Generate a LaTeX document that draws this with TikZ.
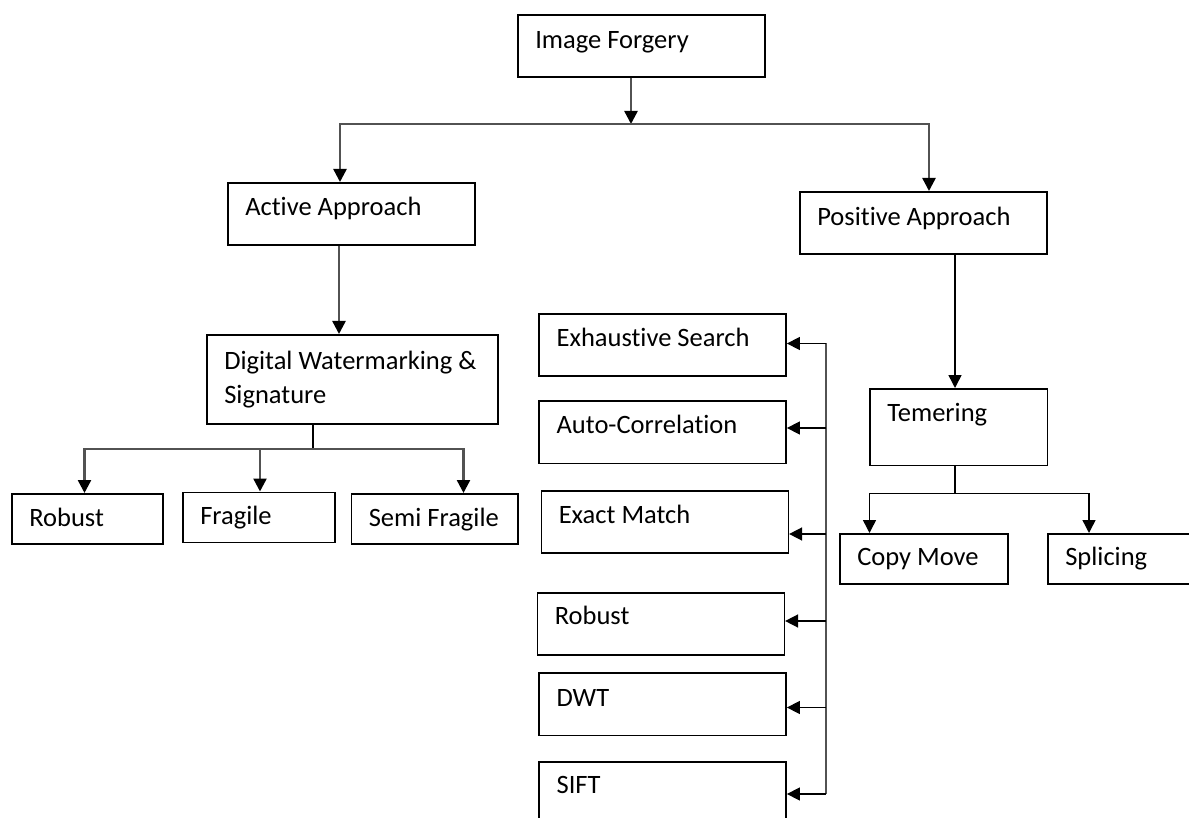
\documentclass[tikz,border=0pt]{standalone}
\usepackage{fontspec}
\setmainfont{Carlito}[Ligatures=NoCommon]
\usetikzlibrary{arrows.meta}
\begin{document}
\begin{tikzpicture}[x=1pt,y=-1pt,
  box/.style={draw=black, line width=1.6pt, anchor=north west, inner xsep=17.5pt, inner ysep=0pt,
    align=flush left, font=\fontsize{26.5}{34}\selectfont},
  conn/.style={draw=black!68, line width=2.4pt},
  thin/.style={draw=black, line width=1.5pt},
  ar/.style={-{Triangle[length=13pt,width=13pt,color=black]}},
  ar2/.style={{Triangle[length=13pt,width=13pt,color=black]}-{Triangle[length=13pt,width=13pt,color=black]}}]
\clip (0,0) rectangle (1189,818);
% boxes
\node[box, text width=212pt, text height=33.5pt, text depth=28.5pt] (forg) at (517,14) {Image Forgery};
\node[box, text width=212pt, text height=33pt, text depth=29pt] (act) at (227,182) {Active Approach};
\node[box, text width=212pt, text height=33.3pt, text depth=28.7pt] (pos) at (799,191) {Positive Approach};
\node[box, text width=256pt, text height=35pt, text depth=54pt] (dw) at (206,334) {\mbox{Digital Watermarking \&}\\Signature};
\node[box, text width=116pt, text height=33pt, text depth=17pt] (rob1) at (11,493) {Robust};
\node[box, text width=117pt, text height=32.5pt, text depth=17.5pt] (frag) at (182,491.5) {Fragile};
\node[box, text width=131.5pt, text height=33pt, text depth=17pt] (semi) at (350.5,493) {\mbox{Semi Fragile}};
\node[box, text width=142.5pt, text height=33pt, text depth=43.5pt] (tem) at (869,388) {Temering};
\node[box, text width=133pt, text height=32pt, text depth=18pt] (copy) at (839,533) {Copy Move};
\node[box, text width=145pt, text height=32pt, text depth=18pt] (spl) at (1047,533) {Splicing};
\node[box, text width=212pt, text height=33pt, text depth=29pt] (exh) at (538.3,313) {Exhaustive Search};
\node[box, text width=212pt, text height=33pt, text depth=29.5pt] (auto) at (538.3,400) {Auto-Correlation};
\node[box, text width=212pt, text height=32.7pt, text depth=29.3pt] (exact) at (540.5,490) {Exact Match};
\node[box, text width=212pt, text height=32pt, text depth=30pt] (rob2) at (536.5,592) {Robust};
\node[box, text width=212pt, text height=33pt, text depth=29.5pt] (dwt) at (538.3,672.3) {DWT};
\node[box, text width=212pt, text height=31.5pt, text depth=30.5pt] (sift) at (538.3,761) {SIFT};
% junction coordinates
\coordinate (j1) at (631,124);
\coordinate (hL) at (340,124);
\coordinate (hR) at (929,124);
\coordinate (a1) at (339,300);
\coordinate (b1) at (313,449);
\coordinate (d1) at (84.5,449);
\coordinate (d2) at (260,449);
\coordinate (d3) at (463.5,449);
\coordinate (t1) at (955,300);
\coordinate (t2) at (955,493.3);
\coordinate (c1) at (869.5,493.3);
\coordinate (c2) at (1089,493.3);
\coordinate (e1) at (826,343.5);
\coordinate (e2) at (826,428);
\coordinate (e3) at (826,534);
\coordinate (e4) at (826,621);
\coordinate (e5) at (826,707.5);
\coordinate (e6) at (826,794);
% connectors
\draw[conn,ar] (forg.south -| j1) -- (j1);
\draw[conn,ar2] (act.north -| hL) -- (hL) -- (hR) -- (pos.north -| hR);
\draw[conn,ar] (act.south -| a1) -- (dw.north -| a1);
\draw[thin] (dw.south -| b1) -- (b1);
\draw[conn,ar2] (rob1.north -| d1) -- (d1) -- (d3) -- (semi.north -| d3);
\draw[conn,ar] (d2) -- (frag.north -| d2);
\draw[thin,ar] (pos.south -| t1) -- (tem.north -| t1);
\draw[thin] (tem.south -| t2) -- (t2);
\draw[thin,ar2] (copy.north -| c1) -- (c1) -- (c2) -- (spl.north -| c2);
\draw[conn] (e1) -- (e6);
\draw[thin,ar] (e1) -- (exh.east |- e1);
\draw[thin,ar] (e2) -- (auto.east |- e2);
\draw[thin,ar] (e3) -- (exact.east |- e3);
\draw[thin,ar] (e4) -- (rob2.east |- e4);
\draw[thin,ar] (e5) -- (dwt.east |- e5);
\draw[thin,ar] (e6) -- (sift.east |- e6);
\end{tikzpicture}
\end{document}
